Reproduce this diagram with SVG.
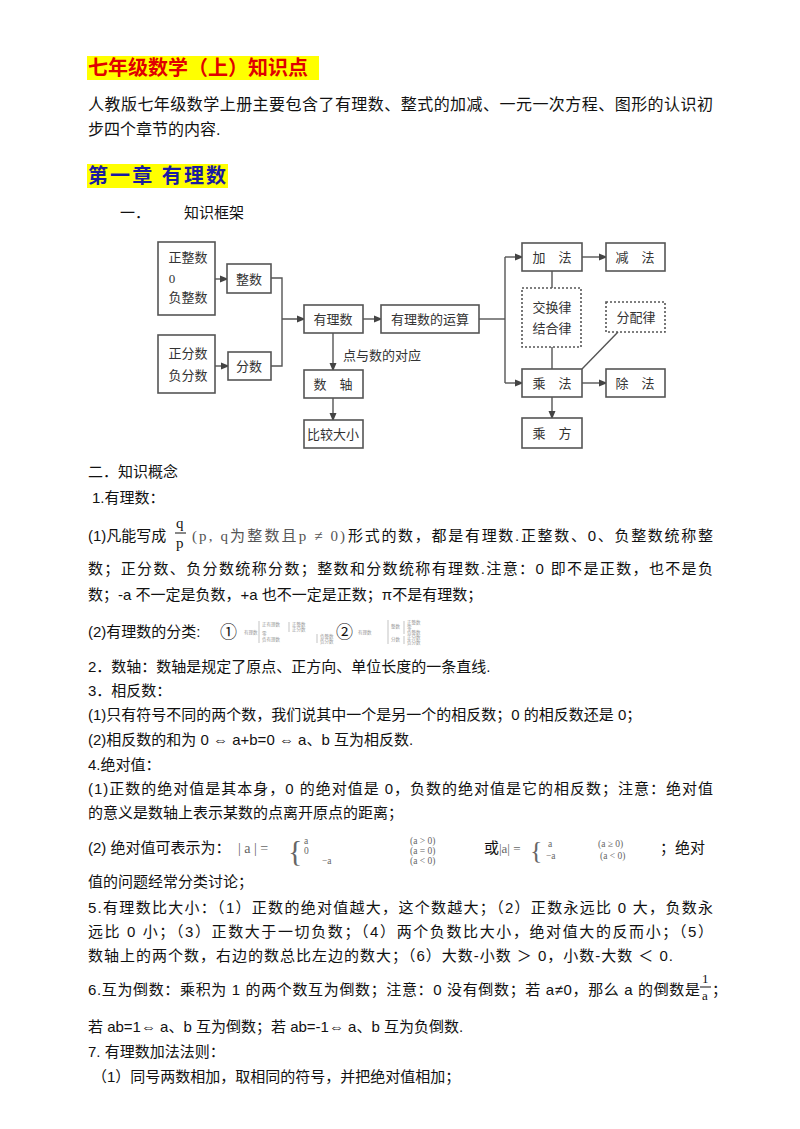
<svg xmlns="http://www.w3.org/2000/svg" width="800" height="1129" viewBox="0 0 800 1129">
<defs>
<style>
text{font-family:"Liberation Sans","Noto Sans CJK SC",sans-serif;fill:#111}
.b{font-size:15px}
.d{font-family:"Liberation Serif","Noto Sans CJK SC",serif;font-size:13px;text-anchor:middle;fill:#333}
.box{fill:#fff;stroke:#555;stroke-width:1.6}
.dash{fill:#fff;stroke:#555;stroke-width:1.6;stroke-dasharray:2 2}
.c{fill:none;stroke:#555;stroke-width:1.4}
.t{font-size:4.5px;fill:#999;font-family:"Liberation Serif","Noto Sans CJK SC",serif}
.f{font-family:"Liberation Serif",serif;fill:#666}
.s{font-family:"Liberation Serif",serif;fill:#666;font-size:9.5px}
</style>
<marker id="a" markerWidth="6" markerHeight="6" refX="5" refY="3" orient="auto"><path d="M0,0.5L6,3L0,5.5z" fill="#444"/></marker>
</defs>
<rect width="800" height="1129" fill="#fff"/>
<rect x="87" y="56" width="232" height="24" fill="#ffff00"/>
<text x="88" y="75" style="font-size:20px;font-weight:bold;fill:#e00000">七年级数学（上）知识点</text>
<text x="88" y="110" class="b" style="font-size:16px" textLength="625">人教版七年级数学上册主要包含了有理数、整式的加减、一元一次方程、图形的认识初</text>
<text x="88" y="135" class="b" style="font-size:16px">步四个章节的内容.</text>
<rect x="87" y="164" width="141" height="24" fill="#ffff00"/>
<text x="88" y="183" style="font-size:20px;font-weight:bold;fill:#1a1aa0" textLength="138">第一章 有理数</text>
<text x="120" y="218" class="b">一．</text>
<text x="184" y="218" class="b">知识框架</text>

<g id="connectors">
<path class="c" d="M215,279H227" marker-end="url(#a)"/>
<path class="c" d="M215,366H228" marker-end="url(#a)"/>
<path class="c" d="M271,278H282V366H271M282,319H304" marker-end="url(#a)"/>
<path class="c" d="M363,319H381" marker-end="url(#a)"/>
<path class="c" d="M479,319H505"/>
<path class="c" d="M505,257V383"/>
<path class="c" d="M505,257H522" marker-end="url(#a)"/>
<path class="c" d="M505,383H522" marker-end="url(#a)"/>
<path class="c" d="M582,257H606" marker-end="url(#a)"/>
<path class="c" d="M582,383H606" marker-end="url(#a)"/>
<path class="c" d="M552,271V288M552,347V369"/>
<path class="c" d="M582,369L618,332"/>
<path class="c" d="M552,397V418" marker-end="url(#a)"/>
<path class="c" d="M333,333V370" marker-end="url(#a)"/>
<path class="c" d="M333,398V420" marker-end="url(#a)"/>
<text x="343" y="360" class="d" style="text-anchor:start">点与数的对应</text>
</g>
<g id="n1"><rect class="box" x="158" y="242" width="57" height="73"/><text class="d" x="188" y="262">正整数</text><text class="d" x="172" y="283">0</text><text class="d" x="188" y="302">负整数</text></g>
<g id="n2"><rect class="box" x="227" y="264" width="44" height="29"/><text class="d" x="249" y="284">整数</text></g>
<g id="n3"><rect class="box" x="158" y="335" width="57" height="58"/><text class="d" x="188" y="358">正分数</text><text class="d" x="188" y="380">负分数</text></g>
<g id="n4"><rect class="box" x="228" y="352" width="43" height="28"/><text class="d" x="249" y="371">分数</text></g>
<g id="n5"><rect class="box" x="304" y="305" width="59" height="28"/><text class="d" x="333" y="324">有理数</text></g>
<g id="n6"><rect class="box" x="381" y="305" width="98" height="28"/><text class="d" x="430" y="324">有理数的运算</text></g>
<g id="n7"><rect class="box" x="522" y="243" width="60" height="28"/><text class="d" x="552" y="262">加　法</text></g>
<g id="n8"><rect class="box" x="606" y="243" width="59" height="28"/><text class="d" x="635" y="262">减　法</text></g>
<g id="n9"><rect class="dash" x="522" y="288" width="59" height="59"/><text class="d" x="552" y="312">交换律</text><text class="d" x="552" y="333">结合律</text></g>
<g id="n10"><rect class="dash" x="606" y="302" width="59" height="30"/><text class="d" x="636" y="322">分配律</text></g>
<g id="n11"><rect class="box" x="522" y="369" width="60" height="28"/><text class="d" x="552" y="388">乘　法</text></g>
<g id="n12"><rect class="box" x="606" y="369" width="59" height="28"/><text class="d" x="635" y="388">除　法</text></g>
<g id="n13"><rect class="box" x="522" y="418" width="60" height="30"/><text class="d" x="552" y="438">乘　方</text></g>
<g id="n14"><rect class="box" x="304" y="370" width="59" height="28"/><text class="d" x="333" y="389">数　轴</text></g>
<g id="n15"><rect class="box" x="304" y="420" width="59" height="28"/><text class="d" x="333" y="439">比较大小</text></g>

<text x="88" y="477" class="b">二．知识概念</text>
<text x="92" y="503" class="b">1.有理数：</text>
<text x="88" y="541" class="b">(1)凡能写成</text>
<text x="176" y="528" class="b" style="font-family:'Liberation Serif',serif">q</text>
<line x1="175" y1="533" x2="186" y2="533" stroke="#111"/>
<text x="176" y="548" class="b" style="font-family:'Liberation Serif',serif">p</text>
<text x="192" y="541" style="font-size:15px;font-family:'Liberation Serif','Noto Sans CJK SC',serif;fill:#555" textLength="153">(p, q为整数且p ≠ 0)</text>
<text x="348" y="541" class="b" textLength="365">形式的数，都是有理数.正整数、0、负整数统称整</text>
<text x="88" y="574" class="b" textLength="625">数；正分数、负分数统称分数；整数和分数统称有理数.注意：0 即不是正数，也不是负</text>
<text x="88" y="600" class="b">数；-a 不一定是负数，+a 也不一定是正数；π不是有理数；</text>
<text x="88" y="637" class="b">(2)有理数的分类:</text>
<text x="220" y="638" class="b" style="font-size:17px">①</text>
<text x="244" y="634" class="t">有理数</text>
<path d="M259,621V643M289,622V632M317,634V643" stroke="#aaa" fill="none" stroke-width="0.7"/>
<text x="262" y="626" class="t">正有理数</text><text x="292" y="626" class="t">正整数</text><text x="292" y="631" class="t">正分数</text>
<text x="262" y="635" class="t">零</text>
<text x="262" y="641" class="t">负有理数</text><text x="320" y="638" class="t">负整数</text><text x="320" y="643" class="t">负分数</text>
<text x="336" y="638" class="b" style="font-size:17px">②</text>
<text x="358" y="634" class="t">有理数</text>
<path d="M388,620V644M404,621V634M404,636V644" stroke="#aaa" fill="none" stroke-width="0.7"/>
<text x="391" y="628" class="t">整数</text><text x="407" y="624" class="t">正整数</text><text x="407" y="629" class="t">零</text><text x="407" y="634" class="t">负整数</text>
<text x="391" y="641" class="t">分数</text><text x="407" y="639" class="t">正分数</text><text x="407" y="644" class="t">负分数</text>
<text x="88" y="672" class="b">2．数轴：数轴是规定了原点、正方向、单位长度的一条直线.</text>
<text x="88" y="696" class="b">3．相反数：</text>
<text x="88" y="720" class="b">(1)只有符号不同的两个数，我们说其中一个是另一个的相反数；0 的相反数还是 0；</text>
<text x="88" y="745" class="b">(2)相反数的和为 0 ⇔ a+b=0 ⇔ a、b 互为相反数.</text>
<text x="88" y="770" class="b">4.绝对值：</text>
<text x="88" y="794" class="b" textLength="625">(1)正数的绝对值是其本身，0 的绝对值是 0，负数的绝对值是它的相反数；注意：绝对值</text>
<text x="88" y="818" class="b">的意义是数轴上表示某数的点离开原点的距离；</text>
<text x="88" y="853" class="b">(2) 绝对值可表示为：</text>
<text x="238" y="853" class="f" style="font-size:14px">| a | =</text>
<text x="288" y="861" class="f" style="font-size:30px">{</text>
<text x="304" y="844" class="s">a</text><text x="304" y="854" class="s">0</text><text x="322" y="864" class="s">−a</text>
<text x="410" y="844" class="s">(a &gt; 0)</text><text x="410" y="854" class="s">(a = 0)</text><text x="410" y="864" class="s">(a &lt; 0)</text>
<text x="484" y="853" class="b">或</text>
<text x="499" y="853" class="f" style="font-size:13px">|a| =</text>
<text x="530" y="859" class="f" style="font-size:26px">{</text>
<text x="548" y="847" class="s">a</text><text x="546" y="859" class="s">−a</text>
<text x="598" y="847" class="s">(a ≥ 0)</text><text x="600" y="859" class="s">(a &lt; 0)</text>
<text x="660" y="853" class="b">；绝对</text>
<text x="88" y="887" class="b">值的问题经常分类讨论；</text>
<text x="88" y="913" class="b" textLength="625">5.有理数比大小：（1）正数的绝对值越大，这个数越大；（2）正数永远比 0 大，负数永</text>
<text x="88" y="937" class="b" textLength="625">远比 0 小；（3）正数大于一切负数；（4）两个负数比大小，绝对值大的反而小；（5）</text>
<text x="88" y="961" class="b" textLength="585">数轴上的两个数，右边的数总比左边的数大；（6）大数-小数 ＞ 0，小数-大数 ＜ 0.</text>
<text x="88" y="995" class="b" textLength="612">6.互为倒数：乘积为 1 的两个数互为倒数；注意：0 没有倒数；若 a≠0，那么 a 的倒数是</text>
<text x="702" y="983" class="b" style="font-family:'Liberation Serif',serif;font-size:13px">1</text>
<line x1="700" y1="987" x2="711" y2="987" stroke="#111"/>
<text x="702" y="1000" class="b" style="font-family:'Liberation Serif',serif;font-size:13px">a</text>
<text x="712" y="995" class="b">；</text>
<text x="88" y="1032" class="b">若 ab=1⇔ a、b 互为倒数；若 ab=-1⇔ a、b 互为负倒数.</text>
<text x="88" y="1057" class="b">7. 有理数加法法则：</text>
<text x="92" y="1082" class="b">（1）同号两数相加，取相同的符号，并把绝对值相加；</text>
</svg>
